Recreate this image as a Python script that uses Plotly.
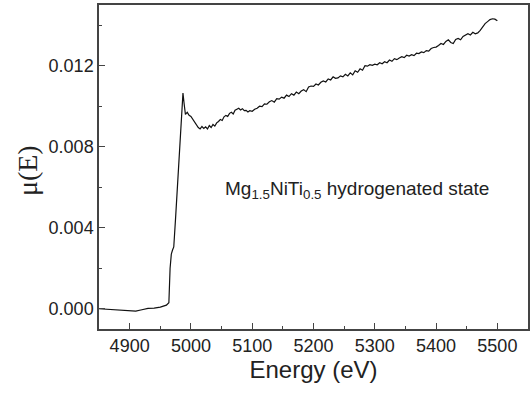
import plotly.graph_objects as go

energy = [4850, 4860, 4870, 4880, 4890, 4900, 4910, 4920, 4930, 4940, 4950, 4960, 4964,
          4966, 4968, 4970, 4972, 4975, 4980, 4984, 4987, 4989, 4991, 4994, 4997, 5000,
          5003, 5006, 5009, 5012, 5015, 5018, 5021, 5024, 5027, 5030, 5033, 5036, 5039,
          5042, 5045, 5048, 5051, 5054, 5057, 5060, 5063, 5066, 5069, 5072, 5075, 5078,
          5081, 5084, 5087, 5090, 5093, 5096,
          5100, 5104, 5108, 5112, 5116, 5120, 5124, 5128, 5132, 5136, 5140, 5144, 5148,
          5152, 5156, 5160, 5164, 5168, 5172, 5176, 5180, 5184, 5188, 5192, 5196, 5200,
          5204, 5208, 5212, 5216, 5220, 5224, 5228, 5232, 5236, 5240, 5244, 5248, 5252,
          5256, 5260, 5264, 5268, 5272, 5276, 5280, 5284, 5288, 5292, 5296, 5300, 5304,
          5308, 5312, 5316, 5320, 5324, 5328, 5332, 5336, 5340, 5344, 5348, 5352, 5356,
          5360, 5364, 5368, 5372, 5376, 5380, 5384, 5388, 5392, 5396, 5400, 5404, 5408,
          5412, 5416, 5420, 5424, 5428, 5432, 5436, 5440, 5444, 5448, 5452, 5456, 5460,
          5464, 5468, 5472, 5476, 5480, 5484, 5488, 5492, 5496, 5500]

mu = [0.00000, -0.00002, -0.00004, -0.00006, -0.00008, -0.00007, -0.00012, -0.00005, 0.00002,
      0.00003, 0.00008, 0.00018, 0.00030,
      0.00200, 0.00270, 0.00290, 0.00305, 0.00450, 0.00720, 0.00950, 0.01065, 0.01010,
      0.00960, 0.00970, 0.00955, 0.00950,
      0.00935, 0.00920, 0.00905, 0.00895, 0.00888, 0.00900, 0.00890, 0.00898, 0.00888,
      0.00905, 0.00895, 0.00910, 0.00902, 0.00918, 0.00925, 0.00935, 0.00930, 0.00948,
      0.00955, 0.00950, 0.00965, 0.00970, 0.00962, 0.00980, 0.00985, 0.00990, 0.00982,
      0.00988, 0.00978, 0.00980, 0.00972, 0.00978,
      0.00975, 0.00985, 0.00990, 0.01000, 0.00998, 0.01012, 0.01010, 0.01022, 0.01028,
      0.01020, 0.01038, 0.01035, 0.01045, 0.01040, 0.01055, 0.01048, 0.01062, 0.01055,
      0.01070, 0.01062, 0.01075, 0.01082, 0.01072, 0.01095, 0.01100, 0.01098, 0.01110,
      0.01105, 0.01118, 0.01125, 0.01120, 0.01135, 0.01130, 0.01145, 0.01138, 0.01140,
      0.01150, 0.01145, 0.01158, 0.01150, 0.01165, 0.01155, 0.01175, 0.01168, 0.01185,
      0.01178, 0.01200, 0.01198, 0.01205, 0.01202, 0.01208, 0.01205, 0.01215, 0.01210,
      0.01220, 0.01215, 0.01228, 0.01222, 0.01235, 0.01230, 0.01238, 0.01245, 0.01240,
      0.01252, 0.01248, 0.01255, 0.01250, 0.01262, 0.01260, 0.01268, 0.01265, 0.01275,
      0.01272, 0.01285, 0.01290, 0.01292, 0.01300, 0.01310, 0.01305, 0.01320, 0.01328,
      0.01315, 0.01310, 0.01330, 0.01335, 0.01328, 0.01345, 0.01350, 0.01358, 0.01352,
      0.01365, 0.01358, 0.01362, 0.01375, 0.01395, 0.01408, 0.01418, 0.01428, 0.01432,
      0.01430, 0.01422]

x_ticks = [4900, 5000, 5100, 5200, 5300, 5400, 5500]
y_ticks = [0.000, 0.004, 0.008, 0.012]
y_tick_labels = ["0.000", "0.004", "0.008", "0.012"]
label_text = "Mg<sub>1.5</sub>NiTi<sub>0.5</sub> hydrogenated state"
y_title = "μ(E)"

fig = go.Figure()
fig.add_trace(go.Scatter(x=energy, y=mu, mode="lines",
                         line=dict(color="#111111", width=1.2), showlegend=False))

axis_common = dict(showline=True, linecolor="#444444", linewidth=1.5, mirror=True,
                   showgrid=False, zeroline=False, ticks="inside", ticklen=6,
                   tickwidth=1, tickcolor="#444444",
                   tickfont=dict(family="Liberation Sans, Arial", size=18, color="#222222"))

fig.update_layout(
    width=531, height=396,
    margin=dict(l=99, r=1, t=5, b=67),
    paper_bgcolor="white", plot_bgcolor="white",
    xaxis=dict(range=[4850, 5550], tickvals=x_ticks,
               minor=dict(dtick=50, tick0=4850, ticks="inside", ticklen=3, tickcolor="#444444"),
               title=dict(text="Energy (eV)", standoff=2,
                          font=dict(family="Liberation Sans, Arial", size=24, color="#222222")),
               **axis_common),
    yaxis=dict(range=[-0.001, 0.015], tickvals=y_ticks, ticktext=y_tick_labels,
               minor=dict(dtick=0.002, tick0=0, ticks="inside", ticklen=3, tickcolor="#444444"),
               **axis_common),
    annotations=[
        dict(x=5053, y=0.00585, xref="x", yref="y", text=label_text,
             showarrow=False, xanchor="left", yanchor="middle",
             font=dict(family="Liberation Sans, Arial", size=19, color="#222222")),
        dict(x=-0.165, y=0.488, xref="paper", yref="paper", text=y_title, textangle=-90,
             showarrow=False, xanchor="center", yanchor="middle",
             font=dict(family="Liberation Serif, Times New Roman", size=28, color="#222222")),
    ],
)

fig.write_html("out.html")
